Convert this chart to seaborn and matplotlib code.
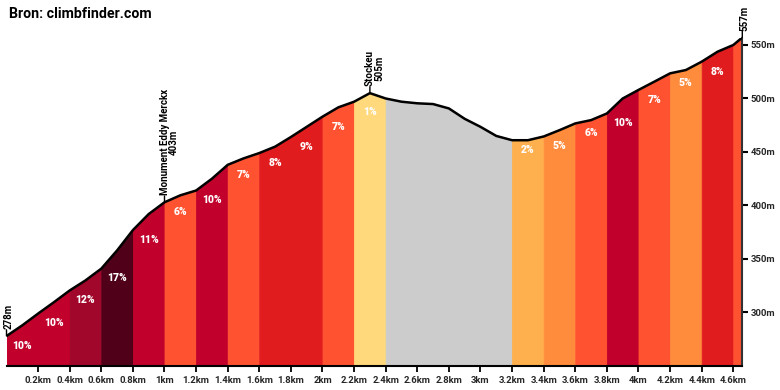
import numpy as np
import pandas as pd
import matplotlib
matplotlib.use("Agg")
import matplotlib.pyplot as plt
import seaborn as sns

title = "Bron: climbfinder.com"

distance_km = [0.0, 0.1, 0.2, 0.3, 0.4, 0.5, 0.6, 0.7, 0.8, 0.9,
               1.0, 1.1, 1.2, 1.3, 1.4, 1.5, 1.6, 1.7, 1.8, 1.9,
               2.0, 2.1, 2.2, 2.3, 2.4, 2.5, 2.6, 2.7, 2.8, 2.9,
               3.0, 3.1, 3.2, 3.3, 3.4, 3.5, 3.6, 3.7, 3.8, 3.9,
               4.0, 4.1, 4.2, 4.3, 4.4, 4.5, 4.6, 4.657]
elevation_m = [278, 288, 299, 309.6, 320.6, 330, 341, 358, 377, 392,
               403, 409.5, 414, 425, 438, 444, 449, 455, 464, 473.5,
               483, 491.7, 497, 505, 500, 497, 495.5, 494.8, 490.7, 481,
               473.5, 465, 461, 461, 464.5, 470.4, 476.7, 479.8, 486, 500,
               508, 515.7, 523.5, 526.6, 534.4, 543.7, 550, 557]

segment_edges_km = [0.0, 0.2, 0.4, 0.6, 0.8, 1.0, 1.2, 1.4, 1.6, 1.8, 2.0,
                    2.2, 2.4, 3.2, 3.4, 3.6, 3.8, 4.0, 4.2, 4.4, 4.6, 4.657]
segment_grades = [10, 10, 12, 17, 11, 6, 10, 7, 8, 9, 7,
                  1, -5, 2, 5, 6, 10, 7, 5, 8, 7]

xtick_values = [0.2, 0.4, 0.6, 0.8, 1.0, 1.2, 1.4, 1.6, 1.8, 2.0, 2.2, 2.4,
                2.6, 2.8, 3.0, 3.2, 3.4, 3.6, 3.8, 4.0, 4.2, 4.4, 4.6]
xtick_labels = ["0.2km", "0.4km", "0.6km", "0.8km", "1km", "1.2km", "1.4km",
                "1.6km", "1.8km", "2km", "2.2km", "2.4km", "2.6km", "2.8km",
                "3km", "3.2km", "3.4km", "3.6km", "3.8km", "4km", "4.2km",
                "4.4km", "4.6km"]
ytick_values = [300, 350, 400, 450, 500, 550]
ytick_labels = ["300m", "350m", "400m", "450m", "500m", "550m"]

poi_km = [0.0, 1.0, 2.3, 4.657]
poi_labels = ["278m", "Monument Eddy Merckx\n403m", "Stockeu\n505m", "557m"]


def grade_color(g):
    if g < 0:
        return "#cccccc"
    if g <= 1:
        return "#ffd97c"
    if g <= 3:
        return "#ffb04e"
    if g <= 5:
        return "#ff8c3c"
    if g <= 7:
        return "#ff5230"
    if g <= 9:
        return "#e11c1f"
    if g <= 11:
        return "#c1002b"
    if g <= 13:
        return "#a0072a"
    return "#500018"


sns.set_style("white")
plt.rcParams["font.family"] = ["Roboto", "DejaVu Sans"]

df = pd.DataFrame({"km": distance_km, "elev": elevation_m})
d = np.array(distance_km)
e = np.array(elevation_m)

fig = plt.figure(figsize=(7.8, 3.9), dpi=100)
ax = fig.add_axes([6.5 / 780, 24 / 390, (742.3 - 6.5) / 780, (366 - 37.5) / 390])

ymin, ymax = 250, 557
xmax = distance_km[-1]

for i, g in enumerate(segment_grades):
    x0, x1 = segment_edges_km[i], segment_edges_km[i + 1]
    m = (d >= x0 - 1e-9) & (d <= x1 + 1e-9)
    c = grade_color(g)
    ax.fill_between(d[m], ymin, e[m], color=c, lw=0.6, edgecolor=c, zorder=1)
    if g >= 0 and (x1 - x0) >= 0.15:
        e0 = float(np.interp(x0, d, e))
        ax.annotate(f"{g}%", xy=((x0 + x1) / 2, e0), xytext=(0, -3.5),
                    textcoords="offset points", ha="center", va="top",
                    color="white", fontsize=7.5, fontweight="heavy", zorder=3)

sns.lineplot(data=df, x="km", y="elev", ax=ax, color="black", lw=1.8,
             zorder=4, legend=False)

for xk, lab in zip(poi_km, poi_labels):
    ek = float(np.interp(xk, d, e))
    ax.annotate("", xy=(xk, ek), xytext=(0, 4.5), textcoords="offset points",
                arrowprops=dict(arrowstyle="-", color="black", lw=1,
                                shrinkA=0, shrinkB=0), annotation_clip=False)
    dx = 3.5 if "\n" in lab else 1.2
    ax.annotate(lab, xy=(xk, ek), xytext=(dx, 5), textcoords="offset points",
                rotation=90, ha="center", va="bottom", fontsize=7,
                fontweight="bold", color="black", linespacing=0.95,
                annotation_clip=False)

ax.set_xlim(0, xmax)
ax.set_ylim(ymin, ymax)
ax.set_xticks(xtick_values)
ax.set_xticklabels(xtick_labels)
ax.yaxis.tick_right()
ax.set_yticks(ytick_values)
ax.set_yticklabels(ytick_labels)
ax.set_xlabel("")
ax.set_ylabel("")
ax.tick_params(axis="x", bottom=True, length=4, width=1.3, color="black",
               labelsize=6.8, pad=3)
ax.tick_params(axis="y", right=True, left=False, length=4, width=1.5,
               color="black", labelsize=6.8, pad=2)
for lab in ax.get_xticklabels() + ax.get_yticklabels():
    lab.set_fontweight("bold")

for s in ["top", "left"]:
    ax.spines[s].set_visible(False)
ax.spines["bottom"].set_color("black")
ax.spines["bottom"].set_linewidth(1.5)
ax.spines["right"].set_color("#333333")
ax.spines["right"].set_linewidth(1.5)

fig.text(9 / 780, 1 - 14 / 390, title, ha="left", va="center",
         fontsize=10.2, fontweight="bold", color="black")

fig.savefig("out.png", dpi=100)
